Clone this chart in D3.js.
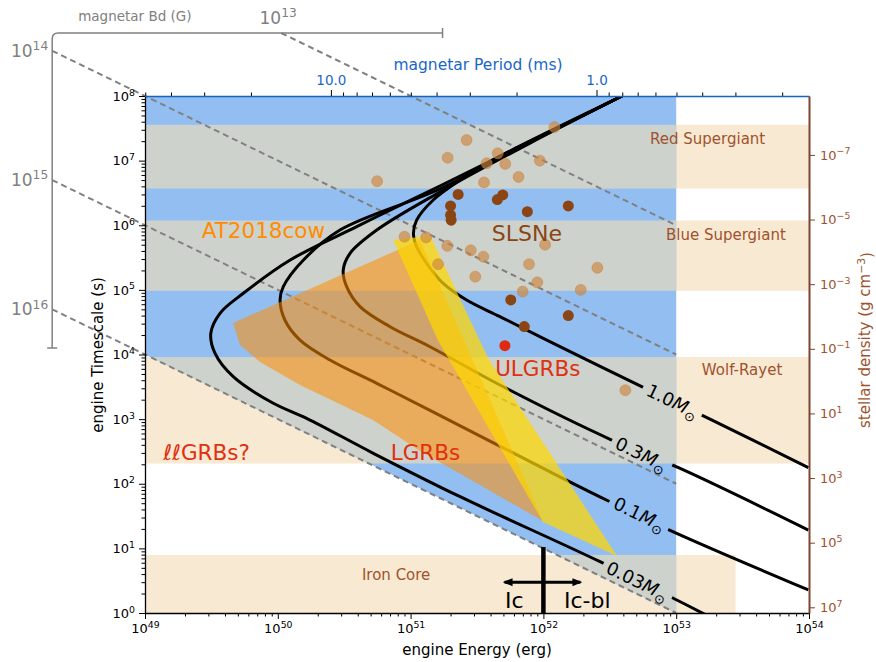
<!DOCTYPE html>
<html>
<head>
<meta charset="utf-8">
<script src="https://cdn.jsdelivr.net/npm/d3@7"></script>
<style>
  body { margin: 0; background: #fff; }
  svg { display: block; font-family: "DejaVu Sans", sans-serif; }
</style>
</head>
<body>
<svg id="chart" width="876" height="662"></svg>
<script>
// ---- data: [engine energy (erg), engine timescale (s)] ----
const massLabels = ["1.0", "0.3", "0.1", "0.03"];

const curve1p0 = [[5.33e52,1.38e8],[3.91e52,1e8],[3.74e51,9.1e6],[2.36e51,5.01e6],[1.48e51,2.46e6],
  [1.11e51,1.2e6],[1.05e51,7.5e5],[1.11e51,4.66e5],[1.32e51,2.58e5],[1.76e51,1.26e5],[2.64e51,6.97e4],
  [4.71e51,3.85e4],[1.06e52,1.67e4],[5.5e52,3.18e3],[1.75e53,1.03e3],[9.89e53,177]];
const curve0p3 = [[5.33e52,1.38e8],[3.91e52,1e8],[7.93e51,1.87e7],[1.66e51,3.27e6],[5.56e50,8.43e5],
  [3.5e50,3.68e5],[3.11e50,2.03e5],[3.3e50,1.12e5],[4.16e50,5.5e4],[7.0e50,2.69e4],[1.4e51,1.32e4],
  [4.71e51,3.37e3],[3.27e52,475],[1.04e53,177],[9.89e53,19.2]];
const curve0p1 = [[5.33e52,1.38e8],[3.91e52,1e8],[7.93e51,1.94e7],[1.66e51,3.64e6],[2.94e50,8.43e5],
  [1.56e50,2.9e5],[1.1e50,1.12e5],[1.04e50,6.97e4],[1.13e50,3.42e4],[1.47e50,1.67e4],[2.47e50,8.22e3],
  [5.56e50,3.58e3],[1.4e51,1.37e3],[1.33e52,128],[3.17e52,52.7],[9.8e52,17.5],[9.89e53,2.27]];
const curve0p03 = [[5.33e52,1.38e8],[3.91e52,1e8],[7.93e51,1.98e7],[1.66e51,4.05e6],[7.0e50,1.72e6],
  [3.93e50,9.5e5],[1.24e50,2.9e5],[5.5e49,8.85e4],[3.67e49,4.34e4],[3.13e49,2.13e4],[3.37e49,1.04e4],
  [4.62e49,4.54e3],[9.25e49,1.76e3],[1.65e50,1.03e3],[5.24e50,296],[2.36e51,63],[2.67e52,6.22],
  [1.01e53,1.59],[1.65e53,0.95]];
const massCurves = [curve1p0, curve0p3, curve0p1, curve0p03];
const massLabelAt = [[9.3e52,1.84e3],[5.43e52,279],[5.25e52,32.8],[5.07e52,3.02]];

// magnetar dipole field lines (t ~ 1/E), start at the Bd axis, end at 1e53 erg
const bdExps = [13, 14, 15, 16];
const bdStart = [[1.06e50,9.44e8],[2e48,5e8],[2e48,5e6],[2e48,5e4]];
const bdEnd = [[1e53,1e6],[1e53,1e4],[1e53,100],[1e53,1]];

// magnetar region (blue), bounded below by the 1e16 G line
const magnetarRegion = [[1e49,1e8],[1e53,1e8],[1e53,1],[1e49,1e4]];

// stellar density bands (g cm^-3)
const starNames = ["Red Supergiant", "Blue Supergiant", "Wolf-Rayet", "Iron Core"];
const starRho = [[1.17e-8,1.1e-6],[1.07e-5,1.6e-3],[0.18,355],[2.4e5,1e9]];
const starEmax = [1e54, 1e54, 1e54, 2.8e53];

// populations
const lgrbFan = [[4.6e49,3.07e4],[1.18e51,5.92e5],[9.93e51,26.5],[3.33e51,95.7],[1.18e51,321],
  [5.21e50,971],[1.47e50,3.37e3],[7.35e49,7.66e3],[5.19e49,1.4e4]];
const ulgrbFan = [[7.4e50,5.92e5],[1.4e51,6.9e5],[3.9e51,8.22e3],[3.58e52,7.62],[9.93e51,25.6],[1.6e51,1.67e4]];
const slsneLight = [[2.64e51,2.08e7],[1.90e51,1.11e7],[4.53e51,1.30e7],[3.74e51,9.1e6],[5.16e51,8.9e6],
  [9.4e51,1.0e7],[3.57e51,4.6e6],[6.5e51,5.6e6],[5.6e50,4.8e6],[1.21e52,3.3e7],[9.0e50,6.65e5],
  [1.31e51,6.5e5],[1.89e51,4.8e5],[2.84e51,4.1e5],[3.53e51,3.26e5],[1.03e52,5.0e5],[1.61e51,2.5e5],
  [7.8e51,2.5e5],[3.07e51,1.6e5],[9.0e51,1.31e5],[6.98e51,9.4e4],[2.55e52,2.2e5],[1.91e52,1.0e5],
  [4.14e52,2.8e3]];
const slsneDark = [[2.28e51,3.0e6],[2.0e51,1.99e6],[2.0e51,1.44e6],[2.02e51,1.2e6],[4.5e51,2.5e6],
  [4.94e51,2.94e6],[7.57e51,1.62e6],[1.54e52,1.99e6],[5.68e51,7.0e4],[1.54e52,4.0e4],[7.18e51,2.7e4]];
const ulgrbPoints = [[5.13e51,1.37e4]];

// annotations [text, E, t, colour, size]
const notes = [
  ["AT2018cow", 2.67e49, 6.3e5, "#ff8c00", 21.5],
  ["SLSNe", 4.09e51, 5.77e5, "#8b4513", 22],
  ["ULGRBs", 4.33e51, 4.7e3, "#e03010", 21.5],
  ["LGRBs", 7.08e50, 233, "#e03010", 21.5],
  ["ℓℓGRBs?", 1.37e49, 233, "#e03010", 21.5],
  ["Red Supergiant", 6.35e52, 1.81e7, "#a0522d", 15],
  ["Blue Supergiant", 8.37e52, 5.9e5, "#a0522d", 15],
  ["Wolf-Rayet", 1.56e53, 4.8e3, "#a0522d", 15],
  ["Iron Core", 4.3e50, 3.24, "#a0522d", 15],
  ["Ic", 5.14e51, 1.18, "#000", 22],
  ["Ic-bl", 1.43e52, 1.18, "#000", 22]
];
const icLine = [[1e52,1],[1e52,10.5]];
const icArrow = [[5.1e51,3],[1.9e52,3]];

// axis ticks
const periodMajor = [10, 1];
const periodMinor = [50,40,30,20,9,8,7,6,5,4,3,2,0.9,0.8,0.7,0.6,0.5,0.4,0.3,0.2];
const rhoTicks = [1e-7,1e-5,1e-3,1e-1,1e1,1e3,1e5,1e7];

// ---- scales ----
const svg = d3.select("#chart");
const x = d3.scaleLog().domain([1e49, 1e54]).range([145, 809]);
const y = d3.scaleLog().domain([1, 1e8]).range([613, 96]);
const xp = d3.scaleLog().domain([50.1, 0.1585]).range([145, 809]);   // E ~ P^-2
const yr = d3.scaleLog().domain([1.5e-9, 1.5e7]).range([96, 613]);   // t ~ rho^-1/2
const pt = d => [x(d[0]), y(d[1])];
const line = d3.line().x(d => x(d[0])).y(d => y(d[1]));

const blue = "#93bef1", beige = "#f8e9d3", grey = "#cdd2cd";
const defs = svg.append("defs");
defs.append("clipPath").attr("id", "plot").append("rect")
  .attr("x", 145).attr("y", 96).attr("width", 664).attr("height", 517);
defs.append("clipPath").attr("id", "mag").append("path").attr("d", line(magnetarRegion) + "Z");

// ---- background bands ----
const bg = svg.append("g").attr("clip-path", "url(#plot)");
starRho.forEach((r, i) => {
  bg.append("rect").attr("x", x(1e49)).attr("width", x(starEmax[i]) - x(1e49))
    .attr("y", yr(r[0])).attr("height", yr(r[1]) - yr(r[0])).attr("fill", beige);
});
bg.append("path").attr("d", line(magnetarRegion) + "Z").attr("fill", blue);
const ov = bg.append("g").attr("clip-path", "url(#mag)");
starRho.forEach((r, i) => {
  ov.append("rect").attr("x", x(1e49)).attr("width", x(starEmax[i]) - x(1e49))
    .attr("y", yr(r[0])).attr("height", yr(r[1]) - yr(r[0])).attr("fill", grey);
});

// ---- magnetar Bd lines ----
bdExps.forEach((e, i) => {
  svg.append("line").attr("x1", x(bdStart[i][0])).attr("y1", y(bdStart[i][1]))
    .attr("x2", x(bdEnd[i][0])).attr("y2", y(bdEnd[i][1]))
    .attr("stroke", "#808080").attr("stroke-width", 2).attr("stroke-dasharray", "6,4");
});

// ---- ejecta mass curves with contour labels ----
const mask = defs.append("mask").attr("id", "lblmask").attr("maskUnits", "userSpaceOnUse")
  .attr("x", 0).attr("y", 0).attr("width", 876).attr("height", 662);
mask.append("rect").attr("width", 876).attr("height", 662).attr("fill", "#fff");
const angle = Math.atan((y(1) - y(10)) / (x(1e53) - x(1e52))) * 180 / Math.PI;
const curvesG = svg.append("g").attr("clip-path", "url(#plot)");
const smooth = d3.line().x(d => x(d[0])).y(d => y(d[1])).curve(d3.curveCatmullRom.alpha(0.5));
massCurves.forEach(c => {
  curvesG.append("path").attr("d", smooth(c)).attr("fill", "none")
    .attr("stroke", "#000").attr("stroke-width", 3).attr("mask", "url(#lblmask)");
});
const lblG = svg.append("g");
massLabels.forEach((m, i) => {
  const [cx, cy] = pt(massLabelAt[i]);
  const t = lblG.append("text").attr("transform", `translate(${cx},${cy}) rotate(${angle})`)
    .attr("text-anchor", "middle").attr("dy", "0.3em").attr("font-size", 18).attr("fill", "#000");
  t.append("tspan").text(m);
  t.append("tspan").attr("font-style", "italic").text("M");
  t.append("tspan").attr("font-size", "0.72em").attr("dy", "0.35em").text("⊙");
  const w = t.node().getComputedTextLength() + 10;
  mask.append("rect").attr("x", -w / 2).attr("y", -10).attr("width", w).attr("height", 20)
    .attr("transform", `translate(${cx},${cy}) rotate(${angle})`).attr("fill", "#000");
});

// ---- populations ----
const popG = svg.append("g").attr("clip-path", "url(#plot)");
popG.append("path").attr("d", line(lgrbFan) + "Z").attr("fill", "#ff8c00").attr("opacity", 0.55);
popG.append("path").attr("d", line(ulgrbFan) + "Z").attr("fill", "#ffd700").attr("opacity", 0.72);

popG.selectAll(".lt").data(slsneLight).join("circle").attr("class", "lt")
  .attr("cx", d => x(d[0])).attr("cy", d => y(d[1])).attr("r", 5.5)
  .attr("fill", "#cd853f").attr("fill-opacity", 0.65).attr("stroke", "#cd853f").attr("stroke-opacity", 0.5);
popG.selectAll(".dk").data(slsneDark).join("circle").attr("class", "dk")
  .attr("cx", d => x(d[0])).attr("cy", d => y(d[1])).attr("r", 5.5).attr("fill", "#8b4513");
popG.selectAll(".ul").data(ulgrbPoints).join("circle").attr("class", "ul")
  .attr("cx", d => x(d[0])).attr("cy", d => y(d[1])).attr("r", 5.5).attr("fill", "#e02a10");

// ---- Ic / Ic-bl marker ----
defs.append("marker").attr("id", "ah").attr("viewBox", "0 0 10 10").attr("refX", 8).attr("refY", 5)
  .attr("markerWidth", 10).attr("markerHeight", 10).attr("markerUnits", "userSpaceOnUse")
  .attr("orient", "auto-start-reverse")
  .append("path").attr("d", "M0,1 L10,5 L0,9 Z").attr("fill", "#000");
svg.append("path").attr("d", line(icLine)).attr("stroke", "#000").attr("stroke-width", 4.5);
svg.append("path").attr("d", line(icArrow)).attr("stroke", "#000").attr("stroke-width", 3)
  .attr("marker-start", "url(#ah)").attr("marker-end", "url(#ah)");

// ---- annotations ----
notes.forEach(n => {
  svg.append("text").attr("x", x(n[1])).attr("y", y(n[2])).attr("fill", n[3])
    .attr("font-size", n[4]).text(n[0]);
});

// ---- axes ----
function sup(sel) {
  sel.selectAll(".tick text").each(function (d) {
    const e = Math.round(Math.log10(d));
    const t = d3.select(this).text("10");
    t.append("tspan").attr("dy", "-0.55em").attr("font-size", "0.72em").text(e < 0 ? "\u2212" + (-e) : e);
  });
}
function minors(lo, hi) {
  const out = [];
  for (let e = lo; e < hi; e++) for (let k = 2; k <= 9; k++) out.push(k * Math.pow(10, e));
  return out;
}
const fmtAxis = g => g.attr("font-family", "DejaVu Sans").attr("font-size", 13);

// bottom
svg.append("g").attr("transform", "translate(0,613)")
  .call(d3.axisBottom(x).tickValues(minors(49, 54)).tickSize(3.5).tickFormat(""))
  .call(g => g.select(".domain").remove());
svg.append("g").attr("transform", "translate(0,613)")
  .call(d3.axisBottom(x).tickValues(d3.range(49, 55).map(e => Math.pow(10, e))).tickSize(6).tickSizeOuter(0).tickPadding(5))
  .call(fmtAxis).call(sup).call(g => g.select(".domain").attr("stroke-width", 1.3));
// left
svg.append("g").attr("transform", "translate(145,0)")
  .call(d3.axisLeft(y).tickValues(minors(0, 8)).tickSize(3.5).tickFormat(""))
  .call(g => g.select(".domain").remove());
svg.append("g").attr("transform", "translate(145,0)")
  .call(d3.axisLeft(y).tickValues(d3.range(0, 9).map(e => Math.pow(10, e))).tickSize(6).tickSizeOuter(0).tickPadding(4))
  .call(fmtAxis).call(sup).call(g => g.select(".domain").attr("stroke-width", 1.3));
// top: magnetar period
svg.append("g").attr("transform", "translate(0,96)")
  .call(d3.axisTop(xp).tickValues(periodMinor).tickSize(3.5).tickFormat(""))
  .call(g => g.select(".domain").remove());
svg.append("g").attr("transform", "translate(0,96)")
  .call(d3.axisTop(xp).tickValues(periodMajor).tickSize(6).tickSizeOuter(0).tickPadding(5).tickFormat(d3.format(".1f")))
  .call(fmtAxis)
  .call(g => g.select(".domain").attr("stroke", "#1565c0").attr("stroke-width", 1.6))
  .call(g => g.selectAll(".tick text").attr("fill", "#1a66c8").attr("font-size", 13.5));
// right: stellar density
svg.append("g").attr("transform", "translate(809,0)")
  .call(d3.axisRight(yr).tickValues(rhoTicks).tickSize(6).tickSizeOuter(0).tickPadding(5))
  .call(fmtAxis).call(sup)
  .call(g => g.select(".domain").attr("stroke", "#7a4630").attr("stroke-width", 2))
  .call(g => g.selectAll(".tick line").attr("stroke", "#7a4630"))
  .call(g => g.selectAll(".tick text").attr("fill", "#a0522d"));

// axis titles
svg.append("text").attr("x", 477).attr("y", 655).attr("text-anchor", "middle")
  .attr("font-size", 15).text("engine Energy (erg)");
svg.append("text").attr("transform", "translate(103,355) rotate(-90)").attr("text-anchor", "middle")
  .attr("font-size", 15).text("engine Timescale (s)");
svg.append("text").attr("x", 478).attr("y", 70).attr("text-anchor", "middle")
  .attr("font-size", 15.5).attr("fill", "#1a66c8").text("magnetar Period (ms)");
const rt = svg.append("text").attr("transform", "translate(870,340) rotate(-90)").attr("text-anchor", "middle")
  .attr("font-size", 15).attr("fill", "#a0522d");
rt.append("tspan").text("stellar density (g cm");
rt.append("tspan").attr("dy", "-0.5em").attr("font-size", "0.72em").text("\u22123");
rt.append("tspan").attr("dy", "0.5em").text(")");

// ---- magnetar Bd axis (outside the frame) ----
const bx = x(2e48), by = y(9.44e8), bxr = x(1.74e51), byb = y(1.26e4);
svg.append("path").attr("d", `M${bxr},${by} H${bx + 6} Q${bx},${by} ${bx},${by + 6} V${byb}`)
  .attr("fill", "none").attr("stroke", "#808080").attr("stroke-width", 1.5);
svg.append("line").attr("x1", bxr).attr("x2", bxr).attr("y1", by - 5).attr("y2", by + 5)
  .attr("stroke", "#808080").attr("stroke-width", 1.5);
svg.append("line").attr("x1", bx - 5).attr("x2", bx + 5).attr("y1", byb).attr("y2", byb)
  .attr("stroke", "#808080").attr("stroke-width", 1.5);
svg.append("text").attr("x", bx + 26).attr("y", by - 12).attr("font-size", 13.5).attr("fill", "#808080")
  .text("magnetar Bd (G)");
bdExps.forEach((e, i) => {
  const t = svg.append("text").attr("font-size", 17).attr("fill", "#808080");
  if (i === 0) t.attr("x", x(bdStart[i][0]) - 3).attr("y", y(bdStart[i][1]) - 9).attr("text-anchor", "middle");
  else t.attr("x", x(bdStart[i][0]) - 4).attr("y", y(bdStart[i][1]) + 6).attr("text-anchor", "end");
  t.append("tspan").text("10");
  t.append("tspan").attr("dy", "-0.55em").attr("font-size", "0.72em").text(e);
});
</script>
</body>
</html>
